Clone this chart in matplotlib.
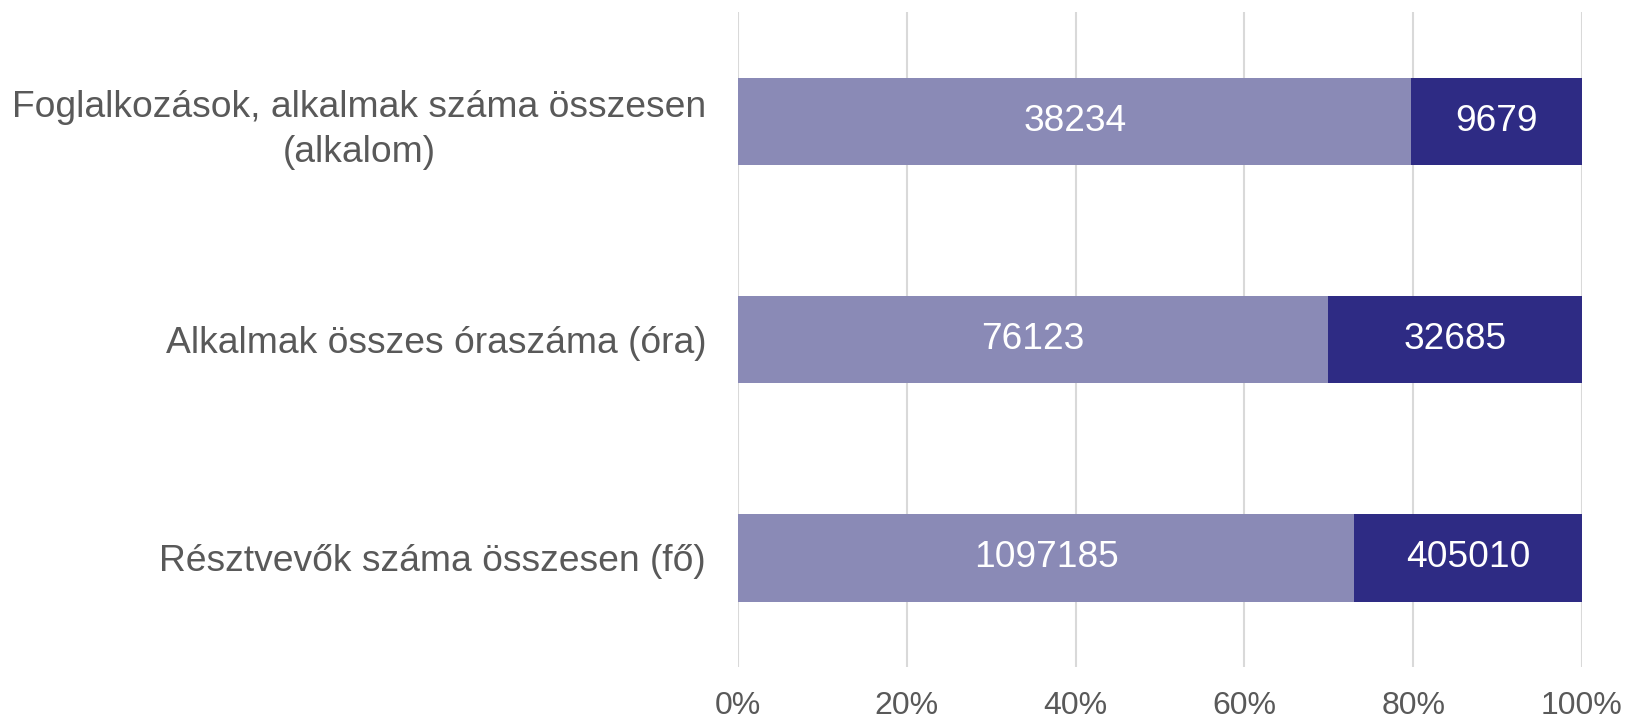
import matplotlib
matplotlib.use("Agg")
import matplotlib.pyplot as plt
import numpy as np

categories = ["Foglalkozások, alkalmak száma összesen\n(alkalom)",
              "Alkalmak összes óraszáma (óra)",
              "Résztvevők száma összesen (fő)"]
series_a = [38234, 76123, 1097185]
series_b = [9679, 32685, 405010]
tick_vals = [0, 20, 40, 60, 80, 100]
tick_labels = ["0%", "20%", "40%", "60%", "80%", "100%"]

color_a = "#8A8AB6"
color_b = "#2E2B84"
text_gray = "#595959"

plt.rcParams['font.family'] = ['Liberation Sans', 'DejaVu Sans']
fig = plt.figure(figsize=(16.28, 7.2), dpi=100)
ax = fig.add_axes([0.4533, 0.0736, 0.9717 - 0.4533, 0.983 - 0.0736])

a = np.array(series_a, dtype=float)
b = np.array(series_b, dtype=float)
tot = a + b
pa = a / tot * 100
pb = b / tot * 100
y = np.arange(len(categories))
h = 0.4
ax.barh(y, pa, height=h, color=color_a, zorder=2)
ax.barh(y, pb, left=pa, height=h, color=color_b, zorder=2)
for i in range(len(y)):
    ax.text(pa[i] / 2, y[i], str(series_a[i]), ha='center', va='center',
            color='white', fontsize=26.7, zorder=3)
    ax.text(pa[i] + pb[i] / 2, y[i], str(series_b[i]), ha='center', va='center',
            color='white', fontsize=26.7, zorder=3)

ax.set_xlim(0, 100)
ax.set_ylim(2.5, -0.5)
ax.set_xticks(tick_vals)
ax.set_xticklabels(tick_labels)
ax.set_yticks(y)
ax.set_yticklabels(categories, multialignment='center', linespacing=1.35)
ax.tick_params(axis='x', length=0, pad=17, labelsize=23, labelcolor=text_gray)
ax.tick_params(axis='y', length=0, pad=23, labelsize=26.8, labelcolor=text_gray)
ax.grid(axis='x', color='#D9D9D9', linewidth=1.5, zorder=0)
ax.set_axisbelow(True)
for s in ax.spines.values():
    s.set_visible(False)

fig.savefig("out.png", dpi=100)
